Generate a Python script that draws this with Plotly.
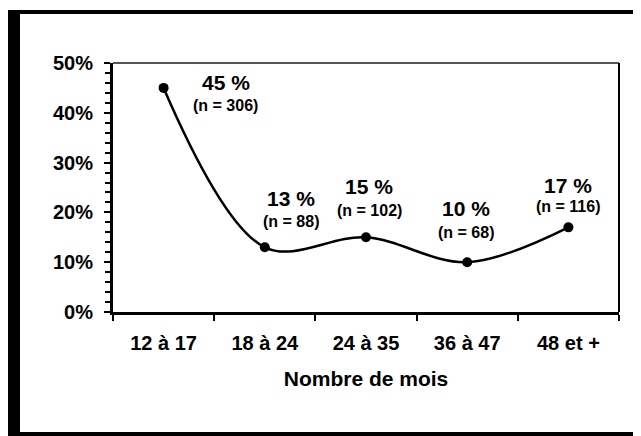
import plotly.graph_objects as go

# data
categories = ["12 à 17", "18 à 24", "24 à 35", "36 à 47", "48 et +"]
pct_values = [0.45, 0.13, 0.15, 0.10, 0.17]
n_values = [306, 88, 102, 68, 116]
y_ticks = [0, 0.1, 0.2, 0.3, 0.4, 0.5]
y_tick_labels = ["0%", "10%", "20%", "30%", "40%", "50%"]

# label offsets (pixels) relative to each point
label_xshift = [62, 26, 3, -1, 0]
pct_yshift = [5, 49, 51, 54, 42]
n_yshift = [-18, 26, 27, 30, 21]

FONT = "Liberation Sans, Arial, sans-serif"

fig = go.Figure()

fig.add_trace(go.Scatter(
    x=categories,
    y=pct_values,
    mode="lines+markers",
    line=dict(color="black", width=2.5, shape="spline", smoothing=1.0),
    marker=dict(color="black", size=10),
    showlegend=False,
    hoverinfo="skip",
))

for cat, v, n, dx, dy1, dy2 in zip(categories, pct_values, n_values, label_xshift, pct_yshift, n_yshift):
    fig.add_annotation(
        x=cat, y=v, text=f"<b>{round(v * 100)} %</b>",
        showarrow=False, xshift=dx, yshift=dy1, yanchor="middle",
        font=dict(family=FONT, size=21, color="black"),
    )
    fig.add_annotation(
        x=cat, y=v, text=f"<b>(n = {n})</b>",
        showarrow=False, xshift=dx, yshift=dy2, yanchor="middle",
        font=dict(family=FONT, size=16, color="black"),
    )

fig.update_xaxes(
    type="category",
    range=[-0.5, 4.5],
    tickson="boundaries",
    ticks="outside", ticklen=6, tickwidth=2, tickcolor="black",
    ticklabelstandoff=11,
    showline=True, linecolor="black", linewidth=3,
    showgrid=False, zeroline=False,
    tickfont=dict(family=FONT, size=20, color="black", weight="bold"),
    title=dict(text="<b>Nombre de mois</b>", font=dict(family=FONT, size=21, color="black"), standoff=19),
)

fig.update_yaxes(
    range=[0, 0.5],
    tickvals=y_ticks,
    ticktext=[f"<b>{t}</b>" for t in y_tick_labels],
    ticks="outside", ticklen=6, tickwidth=2, tickcolor="black",
    ticklabelstandoff=7,
    minor=dict(dtick=0.02, ticks="outside", ticklen=5, tickwidth=2, tickcolor="black"),
    showline=True, linecolor="black", linewidth=3,
    showgrid=False, zeroline=False,
    tickfont=dict(family=FONT, size=20, color="black"),
)

# plot area top (grey) and right (black) borders
fig.add_shape(type="line", xref="paper", yref="paper", x0=0, x1=1, y0=1, y1=1,
              line=dict(color="#555555", width=2))
fig.add_shape(type="line", xref="paper", yref="paper", x0=1, x1=1, y0=0, y1=1,
              line=dict(color="black", width=2))

# the page has an 8px body margin, so figure coords = window coords - 8
W, H = 641, 436
OFF = 8
L, R, T, B = 113 - OFF, W - (619 - OFF), 63 - OFF, H - (312 - OFF)
pw, ph = W - L - R, H - T - B


def px(x):
    return (x - OFF - L) / pw


def py(y):
    return (H - B - (y - OFF)) / ph


# outer frame: thick left bar, top and bottom lines
fig.add_shape(type="rect", xref="paper", yref="paper",
              x0=px(8), x1=px(20), y0=py(10), y1=py(437),
              fillcolor="black", line=dict(width=0), layer="above")
fig.add_shape(type="rect", xref="paper", yref="paper",
              x0=px(8), x1=px(650), y0=py(10), y1=py(14),
              fillcolor="black", line=dict(width=0), layer="above")
fig.add_shape(type="rect", xref="paper", yref="paper",
              x0=px(8), x1=px(650), y0=py(432), y1=py(437),
              fillcolor="black", line=dict(width=0), layer="above")

fig.update_layout(
    width=W, height=H,
    margin=dict(l=L, r=R, t=T, b=B),
    paper_bgcolor="white",
    plot_bgcolor="white",
    font=dict(family=FONT, color="black"),
)

fig.write_html("out.html")
